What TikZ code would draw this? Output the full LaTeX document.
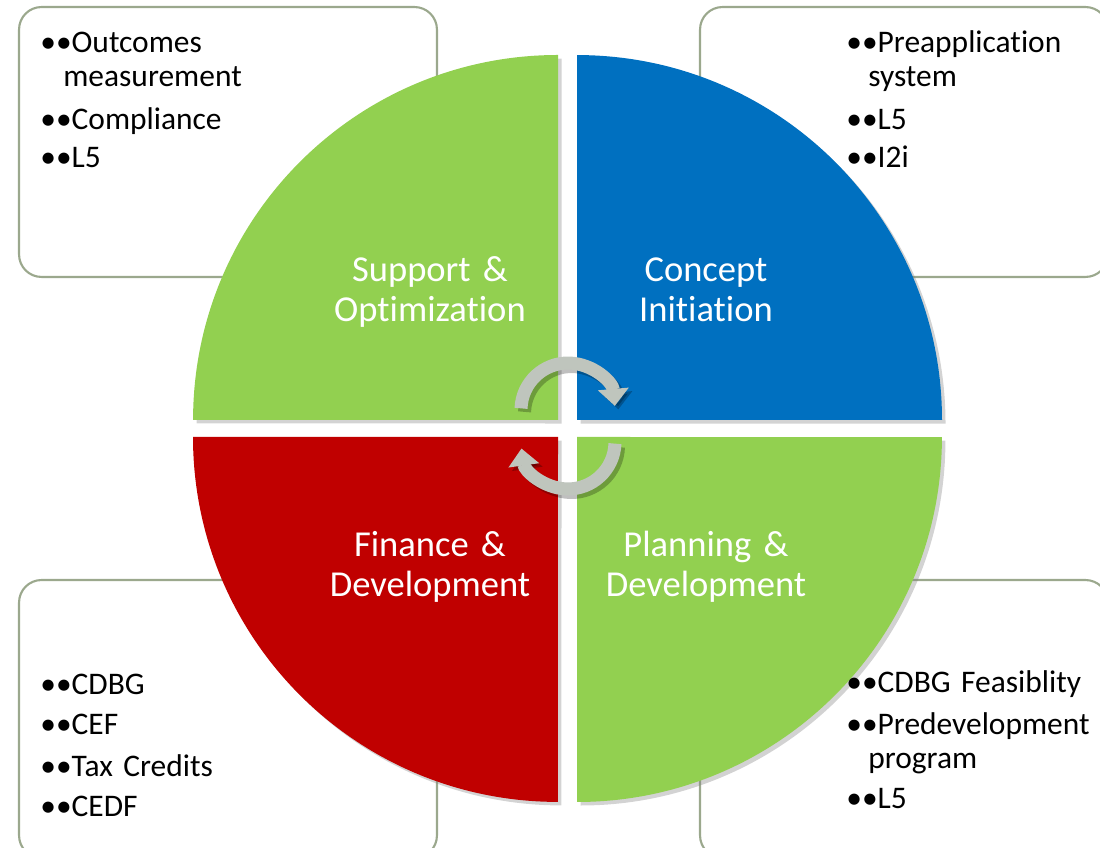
\documentclass[tikz,border=0pt]{standalone}
\usepackage{fontspec}
\setmainfont{Carlito}[Ligatures=NoCommon]
\usepackage{tikz}
\usetikzlibrary{positioning, arrows.meta, shadows}

\definecolor{phasegreen}{RGB}{146,208,80}
\definecolor{phaseblue}{RGB}{0,112,192}
\definecolor{phasered}{RGB}{192,0,0}
\definecolor{boxline}{RGB}{155,168,141}
\definecolor{cyclegray}{RGB}{191,197,189}

\newcommand{\dbul}{\textbullet\textbullet}

\begin{document}
\begin{tikzpicture}[
    x=0.02cm, y=0.02cm,
    infobox/.style={draw=boxline, line width=1.2pt, rounded corners=0.45cm, fill=white},
    quarter/.style={drop shadow={opacity=0.35, shadow xshift=2pt, shadow yshift=-2pt}},
    phase/.style={text=white, align=center, text width=5cm, inner sep=0pt, anchor=base,
        font=\fontsize{20.8}{22.4}\selectfont},
    items/.style={align=left, text width=7cm, inner sep=0pt, anchor=base west,
        font=\fontsize{17.9}{19.3}\selectfont},
    turn/.style={draw=cyclegray, line width=0.26cm, -{Triangle[length=0.34cm, width=0.6cm]}},
    turnshade/.style={turn, draw=black, opacity=0.25, transform canvas={shift={(2pt,-2pt)}}}
]

\useasboundingbox (0,0) rectangle (1100,848);

\node[infobox, minimum width=8.36cm, minimum height=5.4cm] (suppbox) at (228,706) {};
\node[infobox, minimum width=8.16cm, minimum height=5.4cm] (concbox) at (904,706) {};
\node[infobox, minimum width=8.36cm, minimum height=5.56cm] (finbox) at (228,129) {};
\node[infobox, minimum width=8.16cm, minimum height=5.56cm] (planbox) at (904,129) {};

\fill[quarter, phasegreen] (558,428) -- ++(0,365) arc[start angle=90, end angle=180, radius=7.3cm] -- cycle;
\fill[quarter, phaseblue] (577,428) -- ++(365,0) arc[start angle=0, end angle=90, radius=7.3cm] -- cycle;
\fill[quarter, phasered] (558,411) -- ++(-365,0) arc[start angle=180, end angle=270, radius=7.3cm] -- cycle;
\fill[quarter, phasegreen] (577,411) -- ++(0,-365) arc[start angle=270, end angle=360, radius=7.3cm] -- cycle;

\node[phase] (supp) at (430,566) {Support \&\\Optimization};
\node[phase] (conc) at (706,566) {Concept\\Initiation};
\node[phase] (fin) at (430,291) {Finance \&\\Development};
\node[phase] (plan) at (706,291) {Planning \&\\Development};

\coordinate (cwtop) at (568,438);
\coordinate (cwbot) at (568,406);

\draw[turnshade] ([shift={(178:0.94cm)}]cwtop) arc[start angle=178, end angle=5, radius=0.94cm];
\draw[turnshade] ([shift={(-2:0.94cm)}]cwbot) arc[start angle=-2, end angle=-172, radius=0.94cm];
\draw[turn] ([shift={(178:0.94cm)}]cwtop) arc[start angle=178, end angle=5, radius=0.94cm];
\draw[turn] ([shift={(-2:0.94cm)}]cwbot) arc[start angle=-2, end angle=-172, radius=0.94cm];

\node[items] (supplist) at (40,795) {\dbul Outcomes\\\hspace*{0.46cm}measurement\\[5.1pt]
    \dbul Compliance\\[2.3pt]\dbul L5};
\node[items] (conclist) at (846,795) {\dbul Preapplication\\\hspace*{0.44cm}system\\[5.1pt]
    \dbul L5\\[2.3pt]\dbul I2i};
\node[items] (finlist) at (40,153) {\dbul CDBG\\[3.4pt]\dbul CEF\\[4.5pt]
    \dbul Tax Credits\\[3.4pt]\dbul CEDF};
\node[items] (planlist) at (846,155) {\dbul CDBG Feasiblity\\[4.5pt]\dbul Predevelopment\\
    \hspace*{0.44cm}program\\[3.4pt]\dbul L5};

\end{tikzpicture}
\end{document}
